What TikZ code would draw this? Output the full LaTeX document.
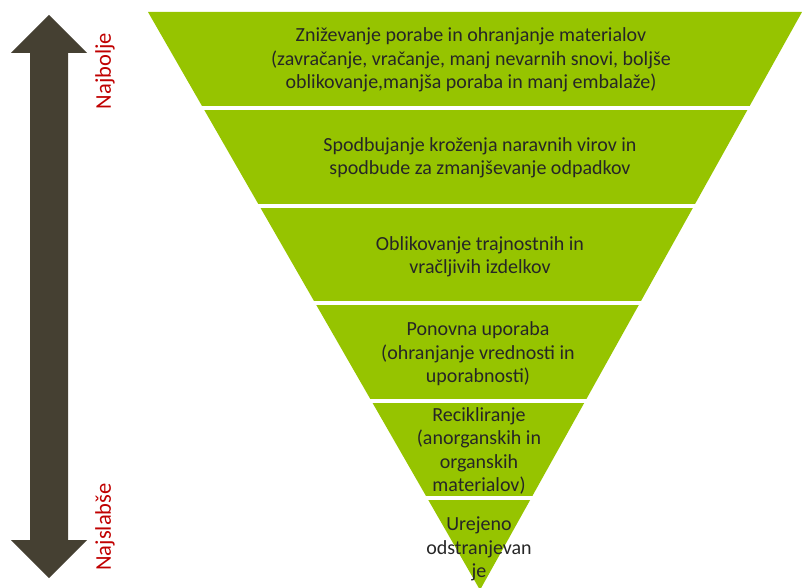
\documentclass[tikz,border=0pt]{standalone}
\usepackage{fontspec}
\setmainfont{Carlito}
\definecolor{grn}{RGB}{150,196,0}
\definecolor{arr}{RGB}{69,64,50}
\definecolor{lbl}{RGB}{192,0,0}
\definecolor{txt}{RGB}{38,38,38}
\begin{document}
\begin{tikzpicture}[x=1pt,y=-1pt,
  band/.style={align=center,text=txt,font=\fontsize{20}{23.5}\selectfont,inner sep=0pt},
  side/.style={text=lbl,font=\fontsize{22.5}{24}\selectfont,rotate=90,inner sep=0pt},
  gap/.style={white,line width=4pt}]
\useasboundingbox (0,0) rectangle (802,588);
\begin{scope}
  \clip (0,0) rectangle (802,588);
  \fill[grn] (148,12) -- (802,12) -- (480,590) -- cycle;
  \foreach \y in {108,206,303,401,498} \draw[gap] (140,\y) -- (810,\y);
\end{scope}
\fill[arr] (49,15) -- (87,53) -- (68,53) -- (68,540) -- (87,540) -- (49,578)
  -- (11,540) -- (30,540) -- (30,53) -- (11,53) -- cycle;
\node[side] (best) at (105,71) {Najbolje};
\node[side] (worst) at (105,527) {Najslabše};
\node[band] (b1) at (471,60) {Zniževanje porabe in ohranjanje materialov\\(zavračanje, vračanje, manj nevarnih snovi, boljše\\oblikovanje,manjša poraba in manj embalaže)};
\node[band] (b2) at (480,158) {Spodbujanje kroženja naravnih virov in\\spodbude za zmanjševanje odpadkov};
\node[band] (b3) at (480,257) {Oblikovanje trajnostnih in\\vračljivih izdelkov};
\node[band] (b4) at (478,354) {Ponovna uporaba\\(ohranjanje vrednosti in\\uporabnosti)};
\node[band] (b5) at (479,451) {Recikliranje\\(anorganskih in\\organskih\\materialov)};
\node[band] (b6) at (479,549) {Urejeno\\odstranjevan\\je};
\end{tikzpicture}
\end{document}
